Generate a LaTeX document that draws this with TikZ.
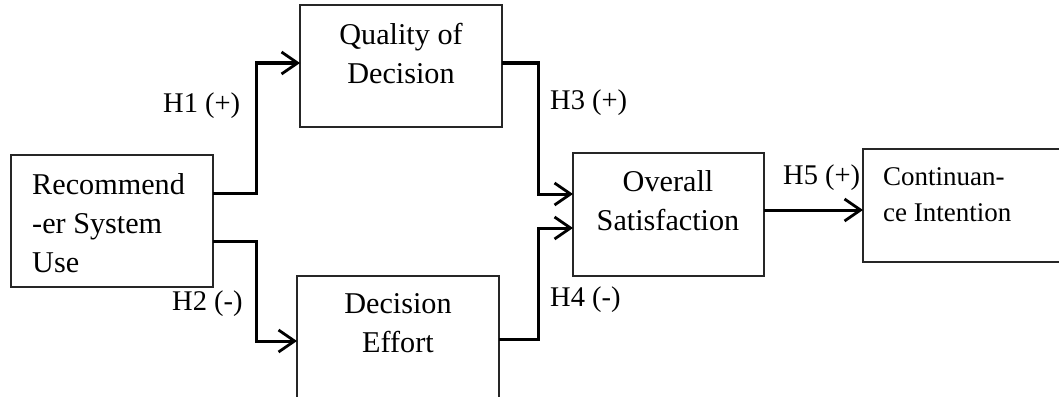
\documentclass[tikz,border=0pt]{standalone}
\usepackage{fontspec}
\setmainfont{Liberation Serif}
\usetikzlibrary{arrows.meta}
\tikzset{
  box/.style={draw=black!85, line width=1.3pt, rectangle, inner sep=0pt, outer sep=0pt},
  conn/.style={draw=black, line width=3pt, line join=miter, -{Straight Barb[length=16pt,width=22pt,line width=2.8pt]}},
  boxtext/.style={inner sep=0pt, font=\fontsize{30.2}{39}\selectfont},
  conttext/.style={inner sep=0pt, font=\fontsize{27}{36}\selectfont},
  hyp/.style={inner sep=0pt, anchor=base west, font=\fontsize{28.5}{33}\selectfont}
}
\begin{document}
\begin{tikzpicture}[x=1pt,y=-1pt]
\useasboundingbox (0,0) rectangle (1059,396);
\clip (0,0) rectangle (1059,396);
% boxes
\node[box, minimum width=202pt, minimum height=132pt] (rec) at (112,221) {};
\node[box, minimum width=202pt, minimum height=122pt] (q) at (401,66) {};
\node[box, minimum width=202pt, minimum height=122pt] (eff) at (398,337) {};
\node[box, minimum width=191pt, minimum height=123pt] (ov) at (668.5,214.5) {};
\node[box, minimum width=202pt, minimum height=113pt] (cont) at (964,205.5) {};
% box texts (anchor = baseline of the last line)
\node[boxtext, anchor=base west, align=left] (recT) at (32,272) {Recommend\\-er System\\Use};
\node[boxtext, anchor=base, align=center] (qT) at (401,83) {Quality of\\Decision};
\node[boxtext, anchor=base, align=center] (effT) at (398,352) {Decision\\Effort};
\node[boxtext, anchor=base, align=center] (ovT) at (668,230) {Overall\\Satisfaction};
\node[conttext, anchor=base west, align=left] (contT) at (883,221) {Continuan-\\ce Intention};
% connectors
\draw[conn] ([yshift=28pt]rec.east) -- ++(43,0) |- ([yshift=3pt]q.west);
\draw[conn] ([yshift=-20pt]rec.east) -- ++(43,0) |- ([yshift=-4pt]eff.west);
\draw[conn] ([yshift=3pt]q.east) -- ++(36,0) |- ([yshift=20.5pt]ov.west);
\draw[conn] ([yshift=-2pt]eff.east) -- ++(39,0) |- ([yshift=-13.5pt]ov.west);
\coordinate (o5) at ([yshift=4.5pt]ov.east);
\draw[conn] (o5) -- (o5 -| cont.west);
% hypothesis labels
\node[hyp] (h1) at (163,112) {H1 (+)};
\node[hyp] (h2) at (172,310) {H2 (-)};
\node[hyp] (h3) at (550,109) {H3 (+)};
\node[hyp] (h4) at (550,306) {H4 (-)};
\node[hyp] (h5) at (783,184) {H5 (+)};
\end{tikzpicture}
\end{document}
